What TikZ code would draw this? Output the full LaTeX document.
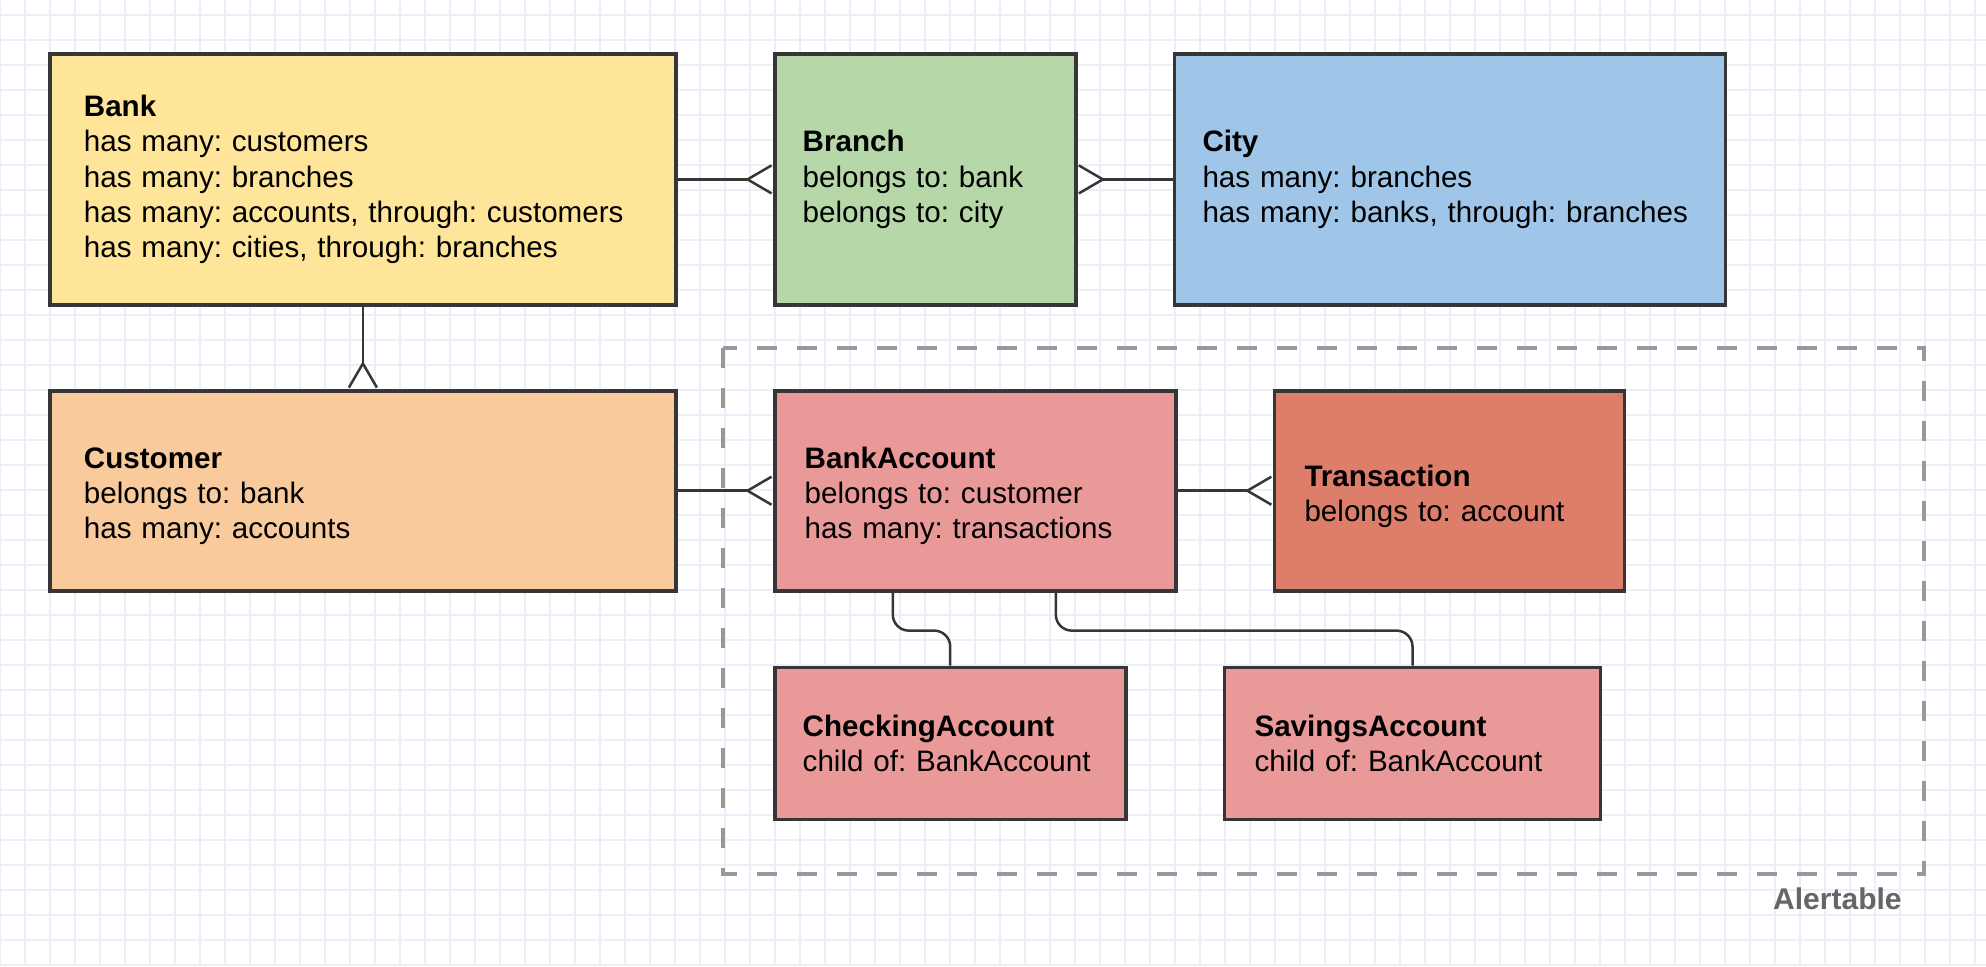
\documentclass[tikz,border=0pt]{standalone}
\usepackage{fontspec}
\setmainfont{Liberation Sans}
\usetikzlibrary{arrows.meta,positioning}

\definecolor{boxline}{HTML}{363636}
\definecolor{gridcol}{HTML}{EEEEFB}
\definecolor{groupcol}{HTML}{999999}
\definecolor{labelcol}{HTML}{666666}
\definecolor{bankfill}{HTML}{FFE599}
\definecolor{branchfill}{HTML}{B6D7A8}
\definecolor{cityfill}{HTML}{9FC5E8}
\definecolor{customerfill}{HTML}{F9CB9C}
\definecolor{accountfill}{HTML}{EA9999}
\definecolor{transfill}{HTML}{DD7E6B}

% pushes the title of the middle row down a little
\newcommand{\lowtitle}[1]{\textbf{\rule{0pt}{16pt}#1}}

\tikzset{
  entity/.style={draw=boxline,line width=1.9pt,anchor=north west,align=left,
    inner xsep=15pt,inner ysep=0pt,font=\fontsize{14.8}{17.6}\selectfont\frenchspacing},
  rel/.style={draw=boxline,line width=1.25pt},
  crow/.style={-{Straight Barb[reversed,length=12pt,width=14pt]}},
  gridline/.style={draw=gridcol,line width=0.6pt},
  group/.style={draw=groupcol,line width=1.8pt,dash pattern=on 10pt off 10pt}
}

\begin{document}
\begin{tikzpicture}[x=1pt,y=1pt,node distance=47.5pt]
 \useasboundingbox (0,0) rectangle (993,-483);
 %\fill[white] (0,0) rectangle (993,-483);

 \foreach \gx in {0,...,79} \draw[gridline] (\gx*12.5,0) -- (\gx*12.5,-483);
 \foreach \gy in {0,...,38} \draw[gridline] (0,-7.5-\gy*12.5) -- (993,-7.5-\gy*12.5);

 \draw[group] (361.5,-174) rectangle (962,-437);
 \node[font=\fontsize{15}{18}\selectfont\bfseries,text=labelcol,anchor=east,inner sep=0pt]
   (alertlabel) at (951,-449.5) {Alertable};

 \node[entity,fill=bankfill,inner xsep=17pt,text width=279pt,minimum height=125.5pt] (Bank) at (24,-26)
   {\textbf{Bank}\\has many: customers\\has many: branches\\has many: accounts, through: customers\\has many: cities, through: branches};
 \node[entity,fill=branchfill,inner xsep=14pt,text width=122.5pt,minimum height=125.5pt] (Branch)
   [right=of Bank.north east,anchor=north west]
   {\textbf{Branch}\\belongs to: bank\\belongs to: city};
 \node[entity,fill=cityfill,inner xsep=14pt,text width=247.5pt,minimum height=125.5pt] (City)
   [right=of Branch.north east,anchor=north west]
   {\textbf{City}\\has many: branches\\has many: banks, through: branches};
 \node[entity,fill=customerfill,inner xsep=17pt,text width=279pt,minimum height=100pt] (Customer)
   [below=41pt of Bank.south west,anchor=north west]
   {\lowtitle{Customer}\\belongs to: bank\\has many: accounts};
 \node[entity,fill=accountfill,text width=170.5pt,minimum height=100pt] (BankAccount)
   [right=of Customer.north east,anchor=north west]
   {\lowtitle{BankAccount}\\belongs to: customer\\has many: transactions};
 \node[entity,fill=transfill,text width=145pt,minimum height=100pt] (Transaction)
   [right=of BankAccount.north east,anchor=north west]
   {\lowtitle{Transaction}\\belongs to: account};
 \node[entity,fill=accountfill,inner xsep=14pt,text width=147.5pt,minimum height=76pt] (Checking)
   [below=36.5pt of BankAccount.south west,anchor=north west]
   {\textbf{CheckingAccount}\\child of: BankAccount};
 \node[entity,fill=accountfill,text width=158pt,minimum height=76pt] (Savings)
   [right=of Checking.north east,anchor=north west]
   {\textbf{SavingsAccount}\\child of: BankAccount};

 \draw[rel,crow] (Bank.east) -- (Bank.east -| Branch.west);
 \draw[rel,crow] (City.west) -- (City.west -| Branch.east);
 \draw[rel,crow] (Bank.south) -- (Customer.north);
 \draw[rel,crow] (Customer.east) -- (BankAccount.west);
 \draw[rel,crow] (BankAccount.east) -- (Transaction.west);
 \draw[rel,rounded corners=8pt] ([xshift=60pt]BankAccount.south west) -- ++(0,-19) -| (Checking.north);
 \draw[rel,rounded corners=8pt] ([xshift=141.5pt]BankAccount.south west) -- ++(0,-19) -| (Savings.north);
\end{tikzpicture}
\end{document}
